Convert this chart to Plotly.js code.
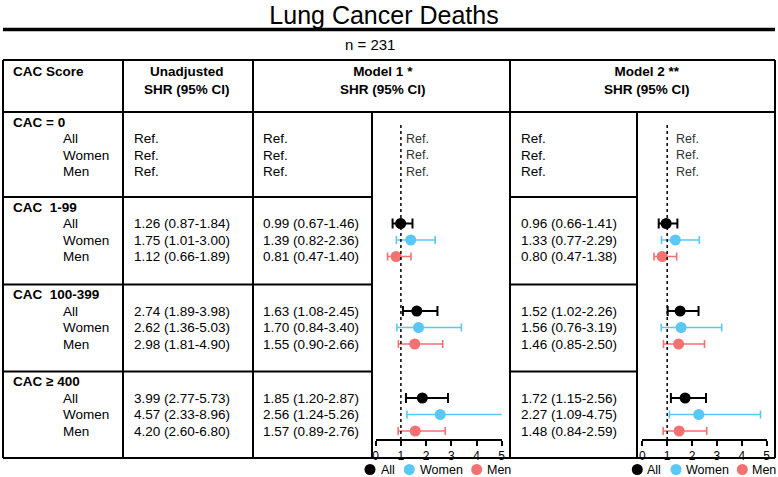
<!DOCTYPE html>
<html>
<head>
<meta charset="utf-8">
<script src="https://cdn.plot.ly/plotly-3.0.1.min.js"></script>
<style>html,body{margin:0;padding:0;background:#fff;}#chart{width:778px;height:477px;}</style>
</head>
<body>
<div id="chart"></div>
<script>
// ---------------- data ----------------
const chartTitle = "Lung Cancer Deaths";
const sampleText = "n = 231";
const groups = ["CAC = 0", "CAC\u00a0\u00a01-99", "CAC\u00a0\u00a0100-399", "CAC \u2265 400"];
const subgroups = ["All", "Women", "Men"];
const colNames = ["CAC Score", "Unadjusted<br>SHR (95% CI)", "Model 1 *<br>SHR (95% CI)", "Model 2 **<br>SHR (95% CI)"];
const refText = "Ref.";
// values for CAC 1-99, 100-399, >=400 ; order All, Women, Men within each group
const unadjHR = [1.26, 1.75, 1.12, 2.74, 2.62, 2.98, 3.99, 4.57, 4.20];
const unadjLo = [0.87, 1.01, 0.66, 1.89, 1.36, 1.81, 2.77, 2.33, 2.60];
const unadjHi = [1.84, 3.00, 1.89, 3.98, 5.03, 4.90, 5.73, 8.96, 6.80];
const m1HR = [0.99, 1.39, 0.81, 1.63, 1.70, 1.55, 1.85, 2.56, 1.57];
const m1Lo = [0.67, 0.82, 0.47, 1.08, 0.84, 0.90, 1.20, 1.24, 0.89];
const m1Hi = [1.46, 2.36, 1.40, 2.45, 3.40, 2.66, 2.87, 5.26, 2.76];
const m2HR = [0.96, 1.33, 0.80, 1.52, 1.56, 1.46, 1.72, 2.27, 1.48];
const m2Lo = [0.66, 0.77, 0.47, 1.02, 0.76, 0.85, 1.15, 1.09, 0.84];
const m2Hi = [1.41, 2.29, 1.38, 2.26, 3.19, 2.50, 2.56, 4.75, 2.59];
const axisTicks = [0, 1, 2, 3, 4, 5];
const seriesColors = ["#000000", "#5AC8F5", "#F27272"];

// ---------------- layout geometry ----------------
const W = 778, H = 477;
const X = p => p / W, Y = p => 1 - p / H;
const FONT = "Liberation Sans, Arial, Helvetica, sans-serif";
const BODY = 13.5;
const L = 3, R = 775, T = 60, B = 458, HB = 112;
const colX = [123, 253, 510];
const forestL = [372, 637];
const groupTop = [112, 197, 284.5, 371.5];
const rowY = (g, s) => groupTop[g] + 10 + 16.5 * s;
const axisY = 440;
const fmt = (h, l, u) => h.toFixed(2) + " (" + l.toFixed(2) + "-" + u.toFixed(2) + ")";

const shapes = [];
const ann = [];
function hline(y, x0, x1, w) { shapes.push({type:'line', xref:'paper', yref:'paper', x0:X(x0), x1:X(x1), y0:Y(y), y1:Y(y), line:{color:'#000', width:w}}); }
function vline(x, y0, y1, w) { shapes.push({type:'line', xref:'paper', yref:'paper', x0:X(x), x1:X(x), y0:Y(y0), y1:Y(y1), line:{color:'#000', width:w}}); }
function txt(x, y, t, opt) {
  ann.push(Object.assign({xref:'paper', yref:'paper', x:X(x), y:Y(y), text:t, showarrow:false,
    xanchor:'left', yanchor:'middle', borderpad:0, borderwidth:0, font:{family:FONT, size:BODY, color:'#000'}}, opt || {}));
}

// title rule
hline(29.5, L, R, 3.5);
// table frame
hline(T, L, R, 2); hline(B, L, R, 2); vline(L, T, B, 2); vline(R, T, B, 2);
hline(HB, L, R, 2);
colX.forEach(x => vline(x, T, B, 2));
forestL.forEach(x => vline(x, HB, B, 2));
for (let g = 1; g < groupTop.length; g++) {
  hline(groupTop[g], L, forestL[0], 2);
  hline(groupTop[g], colX[2], forestL[1], 2);
}

// header texts
const bold = {family:FONT, size:13.5, color:'#000'};
txt(370, 45, sampleText, {xanchor:'center', font:{family:FONT, size:15, color:'#000'}});
txt(13, 71, "<b>" + colNames[0] + "</b>", {font:bold});
txt(187, 80, "<b>" + colNames[1] + "</b>", {xanchor:'center', font:bold});
txt(383, 80, "<b>" + colNames[2] + "</b>", {xanchor:'center', font:bold});
txt(647, 80, "<b>" + colNames[3] + "</b>", {xanchor:'center', font:bold});

// body texts
for (let g = 0; g < groups.length; g++) {
  txt(13, rowY(g, 0), "<b>" + groups[g] + "</b>", {font:bold});
  for (let s = 0; s < subgroups.length; s++) {
    const y = rowY(g, s + 1);
    txt(63, y, subgroups[s]);
    if (g === 0) {
      txt(134, y, refText); txt(263, y, refText); txt(521, y, refText);
      txt(406, y, refText, {font:{family:FONT, size:12.5, color:'#333'}});
      txt(676, y, refText, {font:{family:FONT, size:12.5, color:'#333'}});
    } else {
      const i = (g - 1) * 3 + s;
      txt(134, y, fmt(unadjHR[i], unadjLo[i], unadjHi[i]));
      txt(263, y, fmt(m1HR[i], m1Lo[i], m1Hi[i]));
      txt(521, y, fmt(m2HR[i], m2Lo[i], m2Hi[i]));
    }
  }
}

// reference dotted lines at SHR = 1
['x', 'x2'].forEach(xr => shapes.push({type:'line', xref:xr, yref:'paper', x0:1, x1:1, y0:Y(axisY), y1:Y(123),
  line:{color:'#000', width:1.5, dash:'dot'}}));

// custom legends beneath each forest panel
const legendPos = [[370, 381, 409.3, 420, 476.7, 487], [637.3, 647, 676, 686, 742.3, 751.5]];
legendPos.forEach(p => {
  for (let s = 0; s < subgroups.length; s++) {
    const cx = p[2 * s], tx = p[2 * s + 1], cy = 469.5, r = 5.5;
    shapes.push({type:'circle', xref:'paper', yref:'paper', x0:X(cx - r), x1:X(cx + r), y0:Y(cy + r), y1:Y(cy - r),
      fillcolor:seriesColors[s], line:{width:0}});
    txt(tx, cy, subgroups[s], {font:{family:FONT, size:12.5, color:'#000'}});
  }
});

// ---------------- traces ----------------
const traces = [];
const models = [[m1HR, m1Lo, m1Hi, 'x', 'y', 'Model 1'], [m2HR, m2Lo, m2Hi, 'x2', 'y2', 'Model 2']];
models.forEach(m => {
  const [hr, lo, hi, xa, ya, mname] = m;
  for (let s = 0; s < subgroups.length; s++) {
    const xs = [], ys = [], plus = [], minus = [];
    for (let g = 1; g < groups.length; g++) {
      const i = (g - 1) * 3 + s;
      xs.push(hr[i]); ys.push(rowY(g, s + 1));
      plus.push(hi[i] - hr[i]); minus.push(hr[i] - lo[i]);
    }
    const isAll = s === 0;
    traces.push({type:'scatter', mode:'markers', name:subgroups[s] + ' (' + mname + ')', x:xs, y:ys,
      xaxis:xa, yaxis:ya, showlegend:false, hoverinfo:'x',
      marker:{color:seriesColors[s], size:11, line:{width:0}},
      error_x:{type:'data', symmetric:false, array:plus, arrayminus:minus,
        color:seriesColors[s], thickness:isAll ? 2 : 1.6, width:isAll ? 5 : 4}});
  }
});

const xaxisBase = {range:[0, 5], anchor:'free', position:1 - axisY / H, showline:true, linewidth:2, linecolor:'#000',
  ticks:'outside', ticklen:5, tickwidth:2, tickcolor:'#000', tickvals:axisTicks, tickfont:{family:FONT, size:12, color:'#000'},
  showgrid:false, zeroline:false, fixedrange:true};
const yaxisBase = {domain:[0, 1], range:[H, 0], visible:false, showgrid:false, zeroline:false, fixedrange:true};

const layout = {
  width:W, height:H, margin:{l:0, r:0, t:0, b:0},
  paper_bgcolor:'#fff', plot_bgcolor:'rgba(0,0,0,0)',
  title:{text:chartTitle, font:{family:FONT, size:25, color:'#000'}, x:X(384), xanchor:'center', xref:'paper', y:1 - 15 / H, yanchor:'middle', yref:'container'},
  xaxis:Object.assign({domain:[X(375.7), X(501.7)]}, xaxisBase),
  xaxis2:Object.assign({domain:[X(642.3), X(766.7)]}, xaxisBase),
  yaxis:Object.assign({anchor:'x'}, yaxisBase),
  yaxis2:Object.assign({anchor:'x2'}, yaxisBase),
  shapes:shapes, annotations:ann, showlegend:false
};

Plotly.newPlot('chart', traces, layout, {displayModeBar:false, staticPlot:true});
</script>
</body>
</html>
